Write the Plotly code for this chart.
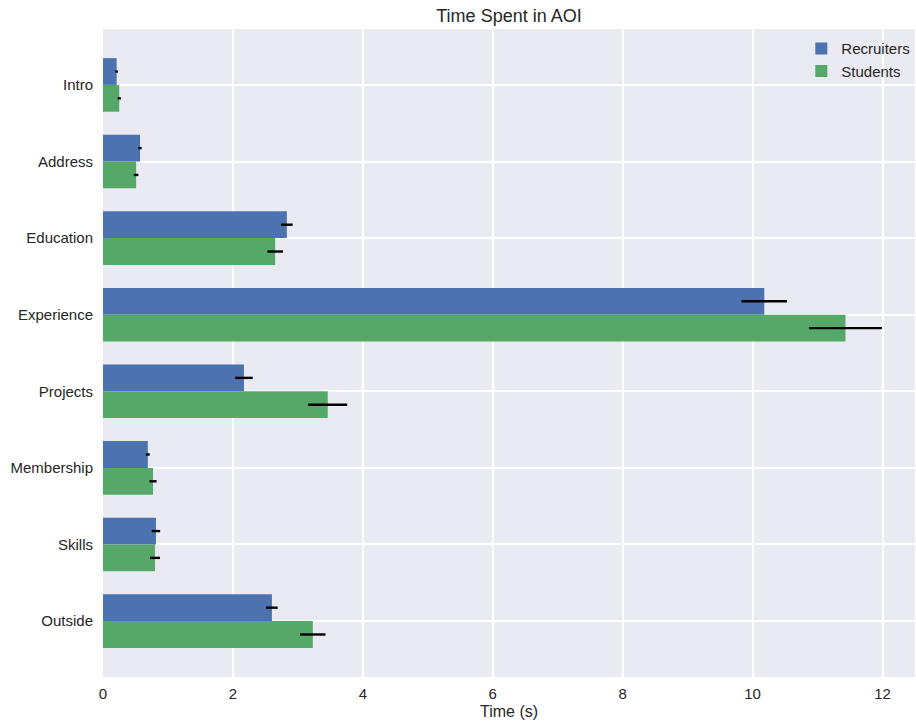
import plotly.graph_objects as go

categories = ["Intro", "Address", "Education", "Experience", "Projects", "Membership", "Skills", "Outside"]
recruiters = [0.21, 0.57, 2.83, 10.18, 2.17, 0.69, 0.815, 2.60]
recruiters_err = [0.02, 0.025, 0.09, 0.35, 0.135, 0.03, 0.065, 0.09]
students = [0.25, 0.51, 2.65, 11.43, 3.46, 0.77, 0.80, 3.23]
students_err = [0.025, 0.035, 0.12, 0.56, 0.30, 0.055, 0.077, 0.195]
x_ticks = [0, 2, 4, 6, 8, 10, 12]

FONT = "Liberation Sans, Arial, sans-serif"

fig = go.Figure()
fig.add_trace(go.Bar(
    y=categories, x=recruiters, orientation="h", name="Recruiters",
    marker=dict(color="#4C72B0", line=dict(width=0)),
    error_x=dict(type="data", array=recruiters_err, color="black", thickness=2.4, width=0),
))
fig.add_trace(go.Bar(
    y=categories, x=students, orientation="h", name="Students",
    marker=dict(color="#55A868", line=dict(width=0)),
    error_x=dict(type="data", array=students_err, color="black", thickness=2.4, width=0),
))

fig.update_layout(
    width=916, height=727,
    margin=dict(l=103, r=1, t=29, b=50, autoexpand=False),
    paper_bgcolor="white", plot_bgcolor="#EAEAF2",
    barmode="group", bargap=0.3, bargroupgap=0,
    font=dict(family=FONT, size=15, color="#262626"),
    title=dict(text="Time Spent in AOI", x=0.5, xref="paper", xanchor="center",
               y=1, yref="paper", yanchor="bottom", pad=dict(b=7),
               font=dict(size=18, color="#262626", family=FONT)),
    legend=dict(x=0.86, xanchor="left", y=0.995, yanchor="top",
                bgcolor="rgba(0,0,0,0)", font=dict(size=15, family=FONT),
                traceorder="normal", itemwidth=30),
    showlegend=True,
)
fig.update_xaxes(
    range=[0, 12.5], tickvals=x_ticks, ticktext=[str(t) for t in x_ticks],
    showgrid=True, gridcolor="white", gridwidth=1.5, zeroline=False,
    ticks="", ticklabelstandoff=6, showline=False, automargin=False,
    title=dict(text="Time (s)", font=dict(size=16, family=FONT), standoff=4),
)
fig.update_yaxes(
    type="category", categoryorder="array", categoryarray=categories,
    range=[7.73, -0.73],
    showgrid=True, gridcolor="white", gridwidth=1.5, zeroline=False,
    ticks="", ticklabelstandoff=9, showline=False, automargin=False,
)

fig.write_html("out.html", config={"displayModeBar": False},
               post_script="document.body.style.margin='0';")
